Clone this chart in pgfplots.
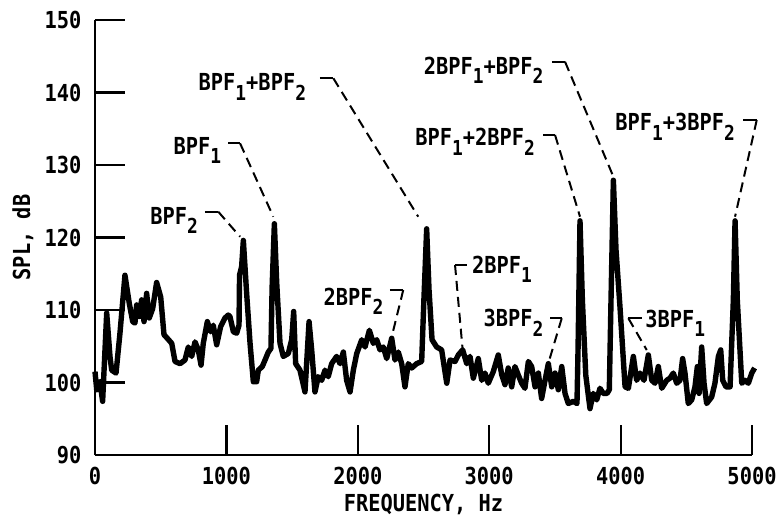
\documentclass[border=0pt]{standalone}
\usepackage{fontspec}
\setmainfont[FakeStretch=0.87]{DejaVu Sans Mono}
\usepackage{pgfplots}
\pgfplotsset{compat=1.18}

\newcommand\lbl{\fontsize{11.7}{14}\selectfont\bfseries}
\newcommand\s[1]{\raisebox{-4.7pt}{\fontsize{10.3}{12}\selectfont\bfseries #1}}

\begin{document}
\begin{tikzpicture}[ld/.style={dash pattern=on 5pt off 3pt}]
\begin{axis}[
  scale only axis, width=328.5pt, height=217.5pt,
  xmin=0, xmax=5000, ymin=90, ymax=150,
  axis x line=bottom, axis y line=left,
  axis line style={-, line width=1.1pt},
  xtick={0,1000,...,5000}, ytick={90,100,...,150},
  tick align=inside, major tick length=15pt,
  tick style={line width=1.1pt, black},
  /pgf/number format/.cd, 1000 sep={}, assume math mode=true, /pgfplots/.cd,
  ticklabel style={font=\lbl},
  xticklabel style={inner sep=0pt, anchor=north, yshift=-5.8pt},
  yticklabel style={inner sep=0pt, anchor=east, xshift=-6.6pt},
  xlabel={FREQUENCY, Hz}, ylabel={SPL, dB},
  label style={font=\lbl},
  xlabel style={at={(axis description cs:0.5,0)}, anchor=base, yshift=-28.3pt},
  ylabel style={at={(axis description cs:-0.0989,0.5)}, anchor=base, rotate=0},
  clip=false,
]
\addplot[black, line width=2.7pt, line join=round, no marks] coordinates {
(0,101.5)(13,99.0)(38,100.1)(58,97.4)(89,109.6)(114,103.6)(127,101.7)(160,101.3)
(190,106.8)(228,114.8)(261,110.9)(287,108.4)(304,108.2)(317,110.7)(337,109.1)
(355,111.4)(373,108.4)(393,112.3)(413,108.9)(439,110.2)(469,113.8)(500,111.8)
(525,106.6)(550,106.1)(584,105.4)(609,102.9)(647,102.6)(685,103.1)(710,104.9)
(736,103.6)(761,105.6)(786,104.5)(807,102.4)(824,105.4)(855,108.4)(880,107.0)
(900,107.9)(926,105.2)(956,107.7)(989,108.9)(1014,109.3)(1027,109.1)(1053,107.0)
(1078,106.8)(1096,107.9)(1100,114.8)(1116,116.0)(1129,119.6)(1154,112.3)
(1180,105.4)(1205,100.1)(1230,100.1)(1243,101.7)(1273,102.2)(1294,103.1)
(1319,104.2)(1339,104.7)(1348,113.2)(1365,121.9)(1383,113.7)(1408,105.4)
(1433,103.6)(1471,104.0)(1497,105.9)(1512,109.8)(1527,102.6)(1560,101.7)
(1598,98.7)(1629,108.4)(1649,104.5)(1674,98.7)(1699,100.8)(1725,100.3)
(1750,101.7)(1775,100.8)(1801,102.6)(1839,103.6)(1865,102.6)(1890,104.2)
(1915,100.3)(1941,98.7)(1966,101.7)(1992,104.0)(2030,105.9)(2055,104.9)
(2088,107.2)(2118,105.4)(2144,105.9)(2169,104.5)(2194,104.9)(2220,103.3)
(2258,106.1)(2283,103.1)(2308,104.2)(2334,102.6)(2359,99.4)(2384,102.6)
(2410,102.0)(2448,102.6)(2486,102.9)(2503,111.4)(2524,121.2)(2542,112.8)
(2565,105.9)(2600,104.9)(2638,104.5)(2677,99.9)(2702,103.1)(2740,102.9)
(2765,103.8)(2798,104.5)(2829,102.6)(2854,103.6)(2879,100.6)(2917,103.3)
(2943,100.3)(2968,101.3)(2993,99.9)(3031,101.5)(3069,103.8)(3095,101.1)
(3120,99.7)(3145,102.0)(3171,99.4)(3196,102.2)(3222,101.0)(3247,99.9)
(3272,99.2)(3298,102.9)(3323,102.2)(3349,99.4)(3374,101.3)(3399,97.8)
(3425,100.3)(3450,102.6)(3476,99.4)(3501,101.3)(3526,99.0)(3552,102.2)
(3577,98.5)(3602,97.1)(3640,97.4)(3668,97.1)(3676,104.5)(3691,122.3)
(3709,111.4)(3735,101.0)(3767,96.4)(3792,98.5)(3818,97.6)(3843,99.2)
(3868,98.5)(3897,98.5)(3914,99.0)(3927,111.4)(3945,127.9)(3965,118.3)
(3995,110.5)(4034,99.4)(4059,99.2)(4097,103.6)(4122,100.3)(4148,101.3)
(4178,100.3)(4211,103.8)(4237,100.3)(4262,99.9)(4287,102.2)(4313,99.2)
(4351,100.3)(4376,100.6)(4401,101.3)(4427,99.9)(4452,100.3)(4472,103.3)
(4490,101.3)(4515,97.1)(4541,97.6)(4566,99.4)(4584,102.2)(4597,98.5)
(4617,104.9)(4635,99.9)(4655,97.1)(4693,98.0)(4718,99.9)(4744,103.6)
(4762,104.5)(4777,100.3)(4802,99.4)(4833,99.4)(4858,111.4)(4871,122.3)
(4888,111.4)(4922,99.9)(4947,100.3)(4972,99.9)(4998,101.3)(5020,102.0)
};

% labels
\begin{scope}[every node/.style={font=\lbl, inner sep=0pt, anchor=base west}]
\node at (axis cs:419,121.86) {BPF\s{2}};
\node at (axis cs:596,131.5) {BPF\s{1}};
\node at (axis cs:786,140.25) {BPF\s{1}+BPF\s{2}};
\node at (axis cs:2499,142.55) {2BPF\s{1}+BPF\s{2}};
\node at (axis cs:2435,132.66) {BPF\s{1}+2BPF\s{2}};
\node at (axis cs:3957,134.73) {BPF\s{1}+3BPF\s{2}};
\node at (axis cs:1737,110.69) {2BPF\s{2}};
\node at (axis cs:2867,115.06) {2BPF\s{1}};
\node at (axis cs:2955,107.7) {3BPF\s{2}};
\node at (axis cs:4186,107.6) {3BPF\s{1}};
\end{scope}

% leaders
\begin{scope}[line width=1pt]
\draw (axis cs:837,123.56) -- (axis cs:938,123.56);
\draw[ld] (axis cs:938,123.56) -- (axis cs:1104,120.11);
\draw (axis cs:1014,132.99) -- (axis cs:1104,132.99);
\draw[ld] (axis cs:1104,132.99) -- (axis cs:1357,122.87);
\draw (axis cs:1712,141.96) -- (axis cs:1814,141.96);
\draw[ld] (axis cs:1814,141.96) -- (axis cs:2460,122.87);
\draw (axis cs:3476,144.25) -- (axis cs:3577,144.25);
\draw[ld] (axis cs:3577,144.25) -- (axis cs:3945,128.39);
\draw (axis cs:3412,134.14) -- (axis cs:3501,134.14);
\draw[ld] (axis cs:3501,134.14) -- (axis cs:3691,122.87);
\draw (axis cs:4934,136.21) -- (axis cs:5036,136.21);
\draw[ld] (axis cs:5036,136.21) -- (axis cs:4871,122.87);
\draw (axis cs:2245,112.76) -- (axis cs:2346,112.76);
\draw[ld] (axis cs:2346,112.76) -- (axis cs:2258,106.32);
\draw (axis cs:2829,116.21) -- (axis cs:2740,116.21);
\draw[ld] (axis cs:2740,116.21) -- (axis cs:2798,104.48);
\draw (axis cs:3463,108.86) -- (axis cs:3552,108.86);
\draw[ld] (axis cs:3552,108.86) -- (axis cs:3450,102.65);
\draw (axis cs:4161,108.86) -- (axis cs:4059,108.86);
\draw[ld] (axis cs:4059,108.86) -- (axis cs:4199,104.48);
\end{scope}
\end{axis}
\pgfresetboundingbox
\path[use as bounding box] (-47.5pt,-32pt) rectangle (342.5pt,227.5pt);
\end{tikzpicture}
\end{document}
